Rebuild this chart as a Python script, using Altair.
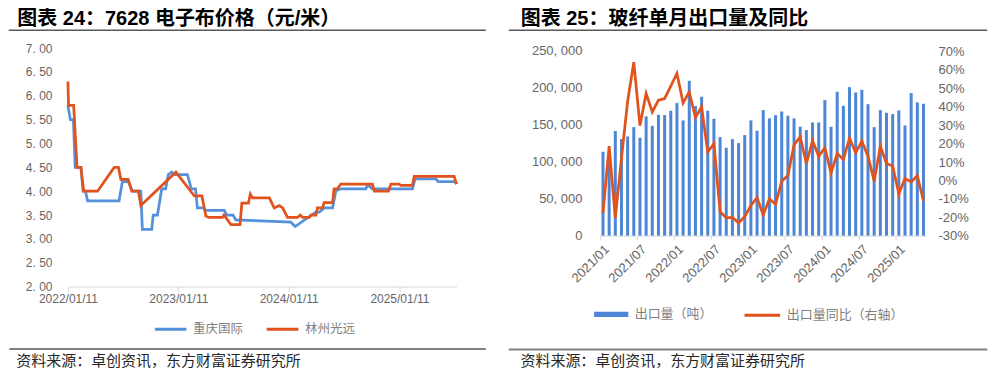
import altair as alt
import pandas as pd

# ---------------- Left panel: 7628 电子布价格 (元/米) ----------------
CQ_DATES = ["2022-01-11", "2022-01-19", "2022-01-29", "2022-02-04", "2022-02-23",
            "2022-03-02", "2022-03-10", "2022-03-17", "2022-06-29", "2022-07-10",
            "2022-07-30", "2022-08-12", "2022-09-09", "2022-09-14", "2022-10-15",
            "2022-10-20", "2022-11-03", "2022-11-17", "2022-11-30", "2022-12-09",
            "2022-12-20", "2022-12-27", "2023-02-10", "2023-02-23", "2023-03-09",
            "2023-03-15", "2023-04-06", "2023-04-11", "2023-06-12", "2023-06-20",
            "2023-07-11", "2023-07-20", "2024-01-18", "2024-02-01", "2024-04-10",
            "2024-04-21", "2024-05-07", "2024-06-04", "2024-06-15", "2024-07-01",
            "2024-09-22", "2024-09-28", "2024-10-14", "2025-02-23", "2025-03-04",
            "2025-05-12", "2025-05-19", "2025-07-14", "2025-07-19"]
CQ_PRICE = [5.80, 5.50, 5.50, 4.50, 4.50, 4.00, 4.00, 3.80, 3.80, 4.20,
            4.20, 4.00, 4.00, 3.20, 3.20, 3.50, 3.50, 4.05, 4.05, 4.35,
            4.40, 4.35, 4.35, 4.05, 4.05, 3.65, 3.65, 3.60, 3.60, 3.50,
            3.50, 3.40, 3.35, 3.26, 3.56, 3.56, 3.65, 3.65, 4.01, 4.05,
            4.05, 4.13, 4.05, 4.05, 4.26, 4.26, 4.20, 4.20, 4.15]

LZ_DATES = ["2022-01-11", "2022-01-13", "2022-01-30", "2022-02-10", "2022-02-23",
            "2022-03-04", "2022-04-19", "2022-06-13", "2022-06-27", "2022-07-05",
            "2022-07-29", "2022-08-10", "2022-09-01", "2022-09-09", "2023-01-03",
            "2023-03-05", "2023-03-30", "2023-04-12", "2023-04-22", "2023-06-06",
            "2023-06-11", "2023-06-17", "2023-07-04", "2023-08-03", "2023-08-09",
            "2023-08-31", "2023-09-06", "2023-09-13", "2023-11-08", "2023-11-24",
            "2023-12-11", "2023-12-22", "2024-01-07", "2024-02-09", "2024-02-18",
            "2024-02-26", "2024-03-19", "2024-03-24", "2024-04-10", "2024-04-15",
            "2024-05-02", "2024-05-07", "2024-06-04", "2024-06-09", "2024-06-20",
            "2024-07-01", "2024-10-14", "2024-10-20", "2024-12-06", "2024-12-14",
            "2025-01-10", "2025-01-16", "2025-02-23", "2025-03-01", "2025-07-11",
            "2025-07-19"]
LZ_PRICE = [6.30, 5.80, 5.80, 4.50, 4.50, 4.00, 4.00, 4.50, 4.50, 4.25,
            4.25, 4.00, 4.00, 3.70, 4.40, 3.90, 3.90, 3.48, 3.45, 3.45,
            3.50, 3.45, 3.30, 3.30, 3.75, 3.75, 3.94, 3.86, 3.86, 3.65,
            3.70, 3.65, 3.45, 3.45, 3.50, 3.45, 3.45, 3.50, 3.50, 3.65,
            3.65, 3.76, 3.76, 4.05, 4.05, 4.15, 4.15, 4.00, 4.00, 4.15,
            4.15, 4.12, 4.12, 4.31, 4.31, 4.15]

SERIES = ["重庆国际", "林州光远"]
LEFT_TICKS = [(2022, 1, 11), (2023, 1, 11), (2024, 1, 11), (2025, 1, 11)]
LEFT_Y_TICKS = [2.0, 2.5, 3.0, 3.5, 4.0, 4.5, 5.0, 5.5, 6.0, 6.5, 7.0]

# ---------------- Right panel: 玻纤单月出口量及同比 ----------------
MONTHS = [f"{y}/{m:02d}" for y in range(2021, 2026) for m in range(1, 13)][:53]
EXPORT_T = [113500, 110000, 141500, 130600, 134200, 146800, 132400, 161300, 148600, 163500,
            163000, 169000, 179300, 155900, 209500, 175200, 187800, 169000, 158100, 133300,
            118900, 130600, 125200, 136000, 155900, 141900, 169800, 158600, 163000, 168000,
            162200, 158600, 147300, 142800, 153100, 153100, 183300, 147300, 194600, 175700,
            200900, 193700, 197300, 177900, 146800, 169800, 166200, 164400, 169400, 149100,
            192800, 180200, 178400]
EXPORT_YOY = [-17.6, 18.6, -20.3, 12.0, 43.0, 64.2, 29.8, 47.2, 37.2, 43.6,
              44.5, 51.2, 58.1, 42.1, 48.1, 34.2, 39.9, 15.4, 19.9, -17.0,
              -20.3, -20.1, -23.0, -19.7, -13.6, -9.4, -18.8, -10.0, -13.0, -0.4,
              2.7, 19.3, 23.7, 9.2, 21.5, 13.2, 17.7, 4.1, 14.6, 11.4,
              23.0, 15.0, 21.3, 13.2, -0.4, 18.6, 9.2, 7.8, -7.3, 1.1,
              -0.9, 2.7, -11.2]
MONTH_TICKS = MONTHS[::6]
VOL_TICKS = [0, 50000, 100000, 150000, 200000, 250000]
YOY_TICKS = [-30, -20, -10, 0, 10, 20, 30, 40, 50, 60, 70]
LEG_VOL = "出口量（吨）"
LEG_YOY = "出口量同比（右轴）"

TITLE_L = "图表 24：7628 电子布价格（元/米）"
TITLE_R = "图表 25：玻纤单月出口量及同比"
SOURCE = "资料来源：卓创资讯，东方财富证券研究所"

# ---------------- styling ----------------
CJK = "Noto Sans CJK SC"
MIX = "Liberation Sans, Noto Sans CJK SC"
BLUE = "#5591DB"
ORANGE = "#E1521D"
BAR_BLUE = "#4D86D6"
AX_LABEL = "#666666"
LEG_LABEL = "#7f7f7f"
AX_LINE = "#d9d9d9"

W1, H1 = 389, 238.7
W2, H2 = 327, 187.7
# offset of the right plot area from the left one (legend positions are relative to it)
DX_RIGHT = W1 + 143.5


def text_layer(txt, x, y, size, weight="normal", color="#000000", baseline="top", font=MIX):
    return alt.Chart(pd.DataFrame({"t": [txt]})).mark_text(
        align="left", baseline=baseline, fontSize=size, fontWeight=weight,
        color=color, font=font
    ).encode(text="t:N", x=alt.value(x), y=alt.value(y))


def rule_layer(x1, x2, y, color, sw):
    return alt.Chart(pd.DataFrame({"a": [0]})).mark_rule(
        color=color, strokeWidth=sw
    ).encode(x=alt.value(x1), x2=alt.value(x2), y=alt.value(y))


# ---------------- left chart ----------------
df_left = pd.concat([
    pd.DataFrame({"date": CQ_DATES, "price": CQ_PRICE, "series": SERIES[0]}),
    pd.DataFrame({"date": LZ_DATES, "price": LZ_PRICE, "series": SERIES[1]}),
], ignore_index=True)

left_lines = alt.Chart(df_left).mark_line(strokeWidth=2.75).encode(
    x=alt.X("date:T",
            scale=alt.Scale(type="utc", nice=False),
            axis=alt.Axis(
                values=[alt.DateTime(year=y, month=m, date=d, utc=True) for y, m, d in LEFT_TICKS],
                format="%Y/%m/%d", title=None, grid=False,
                labelColor=AX_LABEL, labelFont=MIX, labelFontSize=12,
                labelPadding=2, labelFlush=False, labelOverlap=False,
                domainColor=AX_LINE, tickColor=AX_LINE, tickSize=5)),
    y=alt.Y("price:Q",
            scale=alt.Scale(domain=[2, 7], nice=False, zero=False),
            axis=alt.Axis(values=LEFT_Y_TICKS, title=None, grid=False,
                          domain=False, ticks=False,
                          labelExpr="replace(format(datum.value, '.2f'), '.', '. ')",
                          labelColor=AX_LABEL, labelFont=MIX, labelFontSize=12,
                          labelPadding=16)),
    color=alt.Color("series:N",
                    scale=alt.Scale(domain=SERIES, range=[BLUE, ORANGE]),
                    legend=alt.Legend(orient="none", direction="horizontal",
                                      legendX=85.3, legendY=264, title=None,
                                      symbolType="stroke", symbolSize=1000,
                                      symbolStrokeWidth=3, labelOffset=5,
                                      columnPadding=16, labelFont=CJK,
                                      labelFontSize=12.5, labelColor=LEG_LABEL)),
    order=alt.Order("series:N")
)

left = alt.layer(
    left_lines,
    text_layer(TITLE_L, -50.7, -39.3, 20, "bold"),
    rule_layer(-59.2, 418.3, -17.8, "#595959", 1.5),
    rule_layer(-58.7, 418.3, 301.2, "#808080", 2),
    text_layer(SOURCE, -51.7, 313.2, 15, color="#262626", baseline="middle", font=CJK),
).properties(width=W1, height=H1)

# ---------------- right chart ----------------
df_right = pd.DataFrame({"month": MONTHS, "vol": EXPORT_T, "yoy": EXPORT_YOY,
                         "k1": LEG_VOL, "k2": LEG_YOY})

x_enc = alt.X("month:O", sort=MONTHS,
              scale=alt.Scale(paddingInner=0, paddingOuter=0),
              axis=alt.Axis(values=MONTH_TICKS, bandPosition=0, labelAngle=-45,
                            labelAlign="right", labelBaseline="top", title=None,
                            labelColor=AX_LABEL, labelFont=MIX, labelFontSize=13,
                            labelPadding=3, domainColor=AX_LINE, tickColor=AX_LINE,
                            tickSize=4, grid=False))

bars = alt.Chart(df_right).mark_bar(size=3).encode(
    x=x_enc,
    y=alt.Y("vol:Q",
            scale=alt.Scale(domain=[0, 253650], nice=False),
            axis=alt.Axis(values=VOL_TICKS, orient="left", title=None, grid=False,
                          domain=False, ticks=False,
                          labelExpr="replace(format(datum.value, ','), ',', ', ')",
                          labelColor=AX_LABEL, labelFont=MIX, labelFontSize=13,
                          labelPadding=18)),
    fill=alt.Fill("k1:N", scale=alt.Scale(domain=[LEG_VOL], range=[BAR_BLUE]),
                  legend=alt.Legend(orient="none", legendX=DX_RIGHT - 6.2, legendY=249,
                                    title=None, symbolType="M-1,-0.15H1V0.15H-1Z",
                                    symbolSize=1170, symbolStrokeWidth=0,
                                    labelOffset=6, labelFont=CJK, labelFontSize=13,
                                    labelColor=LEG_LABEL)),
)

line = alt.Chart(df_right).mark_line(strokeWidth=2.75).encode(
    x=x_enc,
    y=alt.Y("yoy:Q",
            scale=alt.Scale(domain=[-30, 71.85], nice=False, zero=False),
            axis=alt.Axis(values=YOY_TICKS, orient="right", title=None, grid=False,
                          domain=False, ticks=False,
                          labelExpr="datum.value + '%'",
                          labelColor=AX_LABEL, labelFont=MIX, labelFontSize=13,
                          labelPadding=11.5)),
    stroke=alt.Stroke("k2:N", scale=alt.Scale(domain=[LEG_YOY], range=[ORANGE]),
                      legend=alt.Legend(orient="none", legendX=DX_RIGHT + 143.1, legendY=248,
                                        title=None, symbolType="stroke",
                                        symbolSize=1270, symbolStrokeWidth=3,
                                        labelOffset=5, labelFont=CJK, labelFontSize=13,
                                        labelColor=LEG_LABEL)),
)

right = alt.layer(
    bars, line,
    text_layer(TITLE_R, -79.2, -39.3, 20, "bold"),
    rule_layer(-91.2, 387.8, -17.8, "#595959", 1.5),
    rule_layer(-91.2, 387.8, 301.7, "#808080", 2),
    text_layer(SOURCE, -79.5, 313.2, 15, color="#262626", baseline="middle", font=CJK),
).resolve_scale(y="independent").properties(width=W2, height=H2)

chart = alt.hconcat(left, right, spacing=143.5, bounds="flush").configure_view(
    stroke=None
).properties(padding={"left": 0, "top": 0, "right": 0, "bottom": 0})

chart.save("out.html", embed_options={"renderer": "svg", "actions": False})
